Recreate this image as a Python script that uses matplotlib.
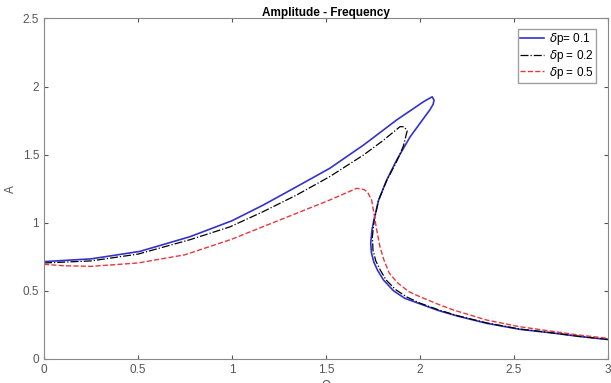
import matplotlib
matplotlib.use("Agg")
import matplotlib.pyplot as plt

plt.rcParams["font.family"] = ["Liberation Sans", "DejaVu Sans"]

# delta p = 0.1 (upper branch -> turning point -> middle -> lower branch)
x_01 = [0, 0.25, 0.51, 0.777, 1.0, 1.166, 1.344, 1.52, 1.70, 1.876, 2.02, 2.065,
        2.075, 2.07, 2.053, 1.947, 1.876, 1.823, 1.78, 1.755, 1.745, 1.738, 1.742,
        1.755, 1.775, 1.806, 1.86, 1.92, 2.0, 2.1, 2.2, 2.355, 2.53, 2.71, 2.85, 3.0]
a_01 = [0.715, 0.735, 0.79, 0.898, 1.015, 1.13, 1.265, 1.40, 1.571, 1.755, 1.89, 1.925,
        1.9, 1.87, 1.83, 1.63, 1.46, 1.314, 1.167, 1.02, 0.95, 0.85, 0.78,
        0.71, 0.65, 0.58, 0.5, 0.445, 0.405, 0.355, 0.315, 0.262, 0.218, 0.19, 0.165, 0.143]

# delta p = 0.2
x_02 = [0, 0.25, 0.5, 0.777, 0.989, 1.166, 1.344, 1.52, 1.70, 1.80, 1.894, 1.915,
        1.932, 1.911, 1.876, 1.823, 1.78, 1.757, 1.747, 1.75, 1.765, 1.79, 1.82,
        1.87, 1.93, 2.0, 2.1, 2.2, 2.355, 2.53, 2.71, 2.85, 3.0]
a_02 = [0.705, 0.72, 0.77, 0.876, 0.97, 1.082, 1.204, 1.339, 1.498, 1.60, 1.706, 1.705,
        1.675, 1.56, 1.45, 1.31, 1.165, 1.02, 0.9, 0.8, 0.72, 0.65, 0.58,
        0.51, 0.455, 0.41, 0.36, 0.318, 0.265, 0.22, 0.191, 0.166, 0.144]

# delta p = 0.5
x_05 = [0, 0.1, 0.25, 0.5, 0.75, 1.0, 1.166, 1.344, 1.52, 1.663, 1.70, 1.72, 1.743,
        1.755, 1.77, 1.787, 1.81, 1.837, 1.88, 1.94, 2.0, 2.1, 2.177, 2.355, 2.53,
        2.71, 2.85, 3.0]
a_05 = [0.695, 0.685, 0.68, 0.705, 0.765, 0.88, 0.972, 1.07, 1.167, 1.253, 1.245, 1.228, 1.167,
        1.07, 0.947, 0.825, 0.72, 0.63, 0.56, 0.495, 0.457, 0.40, 0.36, 0.286, 0.237,
        0.202, 0.175, 0.152]

gris = "#555555"

fig = plt.figure(figsize=(6.11, 3.83), dpi=100)
ax = fig.add_axes([0.072, 0.0627, 0.923, 0.889])

ax.plot(x_01, a_01, color="#3333cc", lw=1.2, label=r"$\delta$p= 0.1")
ax.plot(x_02, a_02, color="black", lw=0.9, ls="-.", label=r"$\delta$p = 0.2")
ax.plot(x_05, a_05, color="#e8383d", lw=1.0, ls="--", label=r"$\delta$p = 0.5")

ax.set_xlim(0, 3)
ax.set_ylim(0, 2.5)
ax.set_xticks([0, 0.5, 1, 1.5, 2, 2.5, 3])
ax.set_xticklabels(["0", "0.5", "1", "1.5", "2", "2.5", "3"])
ax.set_yticks([0, 0.5, 1, 1.5, 2, 2.5])
ax.set_yticklabels(["0", "0.5", "1", "1.5", "2", "2.5"])
ax.tick_params(direction="in", top=True, right=True, colors=gris, labelsize=8.5, length=3)
for s in ax.spines.values():
    s.set_color("#888888")

ax.set_title("Amplitude - Frequency", fontsize=8.5, fontweight="bold", pad=2)
ax.set_ylabel("A", fontsize=8.5, color=gris)
ax.set_xlabel(r"$\Omega$", fontsize=8.5, color=gris, labelpad=2)

leg = ax.legend(loc="upper right", bbox_to_anchor=(0.979, 0.969), borderaxespad=0,
                fontsize=8.5, fancybox=False, handlelength=2.0,
                borderpad=0.2, labelspacing=0.05, handletextpad=0.4)
leg.get_frame().set_edgecolor("#888888")

fig.savefig("out.png", dpi=100)
